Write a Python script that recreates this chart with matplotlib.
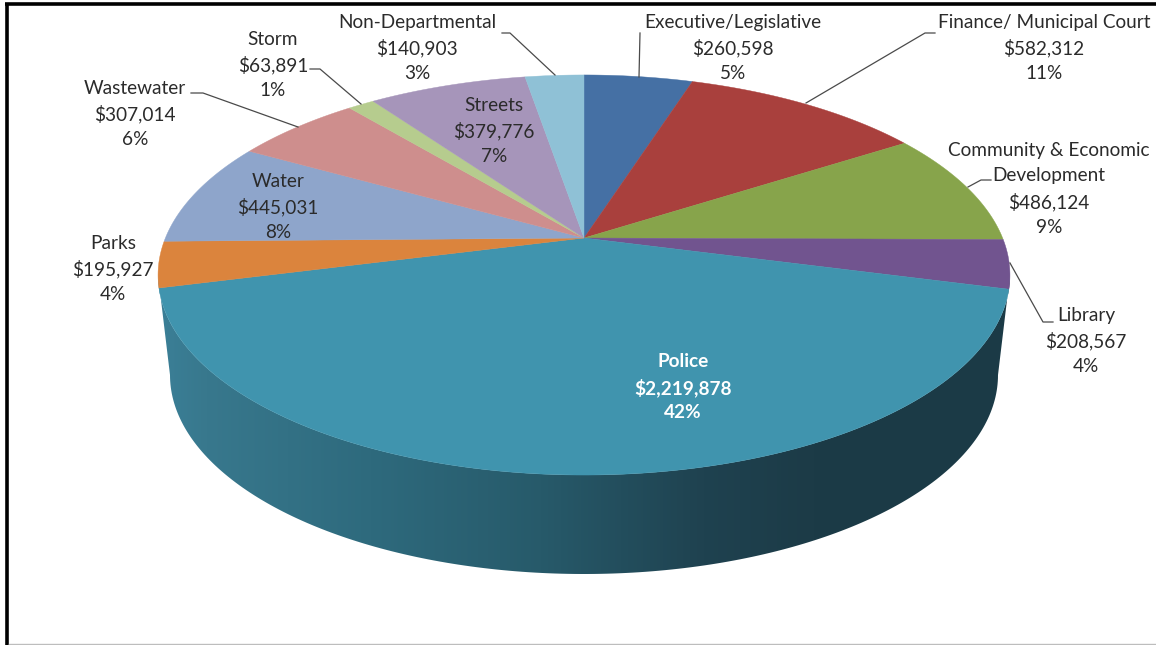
import numpy as np
import matplotlib
matplotlib.use('Agg')
from matplotlib import pyplot as plt
from matplotlib.colors import LinearSegmentedColormap
from matplotlib.patches import Polygon

departments = ['Executive/Legislative', 'Finance/ Municipal Court', 'Community & Economic\nDevelopment',
               'Library', 'Police', 'Parks', 'Water', 'Wastewater', 'Storm', 'Streets', 'Non-Departmental']
amounts = [260598, 582312, 486124, 208567, 2219878, 195927, 445031, 307014, 63891, 379776, 140903]
slice_colors = ['#4570a4', '#a9403d', '#87a44b', '#71548f', '#4094ae', '#db843d',
                '#8ea5cb', '#ce8e8d', '#b6cc8e', '#a695ba', '#8fc1d6']

# label anchors, same order as departments
label_x = [733, 1044, 1049, 1086, 683, 113, 278, 135, 273, 494, 417]
label_y = [48, 48, 189, 341, 387, 269, 207, 114, 65, 131, 48]

leaders = [
    [(640, 33), (639, 77)],
    [(935, 33), (925, 33), (806, 103)],
    [(991, 180), (981, 180), (968, 187)],
    [(1010, 263), (1043, 322), (1053, 322)],
    [(191, 93), (203, 93), (298, 127)],
    [(310, 69), (320, 69), (361, 104)],
    [(502, 33), (510, 33), (555, 75)],
]

# top face of the pie, a circle seen in perspective
CX, CY = 584, 238
A, B, K = 418.6, 193.2, 0.185


def project(theta):
    u, v = np.sin(theta), np.cos(theta)
    d = 1 + K * v
    return CX + A * u / d, CY - B * v / d


fig = plt.figure(figsize=(11.56, 6.45), dpi=100)
ax = fig.add_axes([0, 0, 1, 1])
ax.axis('off')

# side wall: front half of the top ellipse joined to the bottom ellipse
t = np.linspace(0, np.pi, 200)
top_x, top_y = 584 + 426 * np.cos(t), 275 + 200 * np.sin(t)
bot_x, bot_y = 584 + 414 * np.cos(t), 375 + 199 * np.sin(t)
wall = Polygon(np.column_stack([np.r_[top_x, bot_x[::-1]], np.r_[top_y, bot_y[::-1]]]),
               closed=True, facecolor='none', edgecolor='none')
ax.add_patch(wall)

wall_cmap = LinearSegmentedColormap.from_list('wall', [
    (0.00, '#3b7f97'), (0.055, '#38788d'), (0.25, '#2e6a7d'), (0.45, '#275a6a'),
    (0.64, '#1f4250'), (0.77, '#1c3b47'), (1.00, '#1b3a46')])
grad = np.linspace(0, 1, 512).reshape(1, -1)
img = ax.imshow(grad, cmap=wall_cmap, extent=[158, 1010, 580, 275], aspect='auto', zorder=1)
img.set_clip_path(wall)
ax.set_xlim(0, 1156)
ax.set_ylim(645, 0)

# top slices, clockwise from twelve o'clock
edges = np.r_[0, np.cumsum(amounts)] / np.sum(amounts) * 2 * np.pi
for start, end, color in zip(edges[:-1], edges[1:], slice_colors):
    arc = np.linspace(start, end, 120)
    x, y = project(arc)
    ax.fill(np.r_[CX, x], np.r_[CY, y], color=color, lw=0.3, zorder=2)

for pts in leaders:
    xs, ys = zip(*pts)
    ax.plot(xs, ys, color='#4a4a4a', lw=0.9, zorder=3)

total = sum(amounts)
for name, amount, x, y in zip(departments, amounts, label_x, label_y):
    is_police = name == 'Police'
    ax.text(x, y, f'{name}\n${amount:,}\n{amount / total:.0%}',
            ha='center', va='center', family='Lato', fontsize=13.7, linespacing=1.54,
            color='white' if is_police else '#2b2b2b',
            fontweight='bold' if is_police else 'normal', zorder=4)

# frame around the chart
ax.plot([6.5, 6.5], [3.5, 645], color='black', lw=2.6, zorder=5, solid_capstyle='butt')
ax.plot([5, 1156], [3.5, 3.5], color='black', lw=2.6, zorder=5, solid_capstyle='butt')
ax.plot([9, 1156], [644, 644], color='#bdbdbd', lw=1, zorder=5)

fig.savefig('out.png', dpi=100)
